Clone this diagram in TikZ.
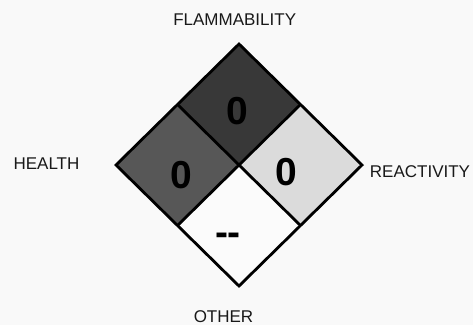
\documentclass[tikz,border=0pt]{standalone}
\usepackage{fontspec}
\setmainfont{Liberation Sans}
\definecolor{bg}{gray}{0.975}
\definecolor{flam}{gray}{0.22}
\definecolor{heal}{gray}{0.34}
\definecolor{reac}{gray}{0.86}
\definecolor{othr}{gray}{0.985}
\begin{document}
\begin{tikzpicture}[x=1pt,y=-1pt,
  lbl/.style={font=\fontsize{17}{17}\selectfont, text=black!90, inner sep=0pt},
  num/.style={font=\fontsize{39}{39}\selectfont\bfseries, text=black, inner sep=0pt},
  sq/.style={draw=black, line width=2.8pt, line join=miter}]
\fill[bg] (0,0) rectangle (473,325);
\useasboundingbox (0,0) rectangle (473,325);
\coordinate (T) at (239,44);
\coordinate (R) at (362,165);
\coordinate (B) at (239,286);
\coordinate (L) at (116,165);
\coordinate (C) at (239,165);
\coordinate (TL) at (177.5,104.5);
\coordinate (TR) at (300.5,104.5);
\coordinate (BR) at (300.5,225.5);
\coordinate (BL) at (177.5,225.5);
\fill[flam] (T) -- (TR) -- (C) -- (TL) -- cycle;
\fill[heal] (TL) -- (C) -- (BL) -- (L) -- cycle;
\fill[reac] (TR) -- (R) -- (BR) -- (C) -- cycle;
\fill[othr] (C) -- (BR) -- (B) -- (BL) -- cycle;
\draw[sq] (TL) -- (BR);
\draw[sq] (TR) -- (BL);
\draw[sq] (T) -- (R) -- (B) -- (L) -- cycle;
\node[num] (nf) at (237.5,111.5) {0};
\node[num] (nh) at (181.5,175.5) {0};
\node[num] (nr) at (286,172) {0};
\node[num] (no) at (228,239) {-\kern-0.02em-};
\node[lbl] (lf) at (234.7,20) {FLAMMABILITY};
\node[lbl] (lh) at (46.5,164) {HEALTH};
\node[lbl] (lr) at (420,172) {REACTIVITY};
\node[lbl] (lo) at (223.5,316.5) {OTHER};
\end{tikzpicture}
\end{document}
